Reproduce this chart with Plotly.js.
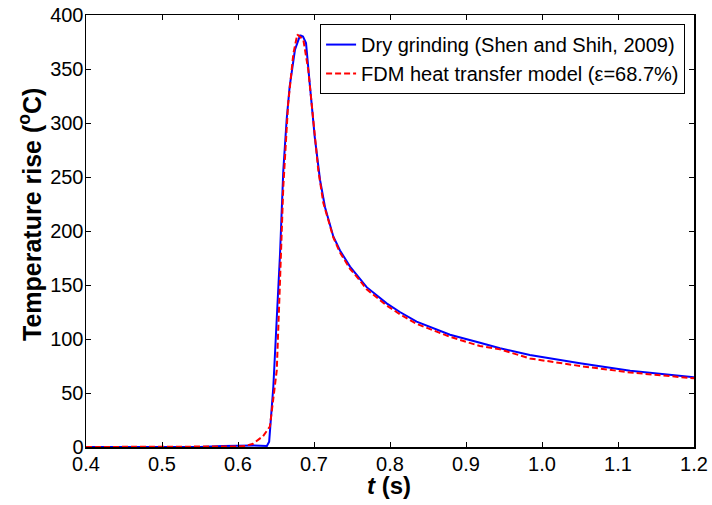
<!DOCTYPE html>
<html>
<head>
<meta charset="utf-8">
<script src="https://cdn.plot.ly/plotly-3.0.1.min.js"></script>
<style>html,body{margin:0;padding:0;background:#fff;}#chart{width:712px;height:505px;}</style>
</head>
<body>
<div id="chart"></div>
<script>
// Dry grinding (Shen and Shih, 2009) - measured
const dryT = [0.40, 0.50, 0.55, 0.58, 0.62, 0.638, 0.641, 0.6465, 0.651, 0.6553, 0.6596, 0.664, 0.668, 0.675, 0.6816, 0.6825, 0.6855, 0.6895, 0.6947, 0.701, 0.708, 0.7145, 0.7254, 0.7342, 0.7474, 0.7583, 0.7693, 0.7956, 0.813, 0.835, 0.879, 0.9184, 0.9447, 0.984, 1.05, 1.116, 1.2];
const dryV = [0, 0, 0, 1, 1.5, 1, 5, 56, 117, 179, 256, 303, 334, 368, 381, 381, 380, 374, 334, 287, 247, 222, 195, 182, 167, 158, 148, 133, 125, 116, 104, 96.6, 91.4, 85.2, 77.5, 70.7, 64.5];
// FDM heat transfer model
const fdmT = [0.40, 0.50, 0.55, 0.60, 0.609, 0.62, 0.629, 0.633, 0.642, 0.644, 0.651, 0.655, 0.6596, 0.666, 0.6728, 0.678, 0.686, 0.6925, 0.699, 0.7057, 0.7123, 0.7254, 0.7342, 0.7474, 0.7583, 0.7693, 0.7956, 0.813, 0.835, 0.879, 0.9184, 0.9447, 0.984, 1.05, 1.116, 1.2];
const fdmV = [0, 0, 0, 0.5, 1, 3, 8, 10, 19, 31, 71, 148, 241, 318, 364, 382, 377, 349, 303, 256, 226, 194, 180, 165, 156, 146, 131, 123, 114, 102, 93.5, 90.4, 82, 75, 69, 63.6];
const xTickVals = [0.4, 0.5, 0.6, 0.7, 0.8, 0.9, 1.0, 1.1, 1.2];
const xTickText = ['0.4', '0.5', '0.6', '0.7', '0.8', '0.9', '1.0', '1.1', '1.2'];
const yTickVals = [0, 50, 100, 150, 200, 250, 300, 350, 400];

const traces = [
  {x: dryT, y: dryV, type: 'scatter', mode: 'lines', name: 'Dry grinding (Shen and Shih, 2009)',
   line: {color: '#0000ff', width: 2}},
  {x: fdmT, y: fdmV, type: 'scatter', mode: 'lines', name: 'FDM heat transfer model (\u03b5=68.7%)',
   line: {color: '#ff0000', width: 2, dash: '6px,3px'}}
];

const font = {family: '"Liberation Sans", Arial, sans-serif', color: '#000'};
const layout = {
  width: 712, height: 505,
  margin: {l: 86, r: 18, t: 15, b: 58},
  paper_bgcolor: '#fff', plot_bgcolor: '#fff',
  font: Object.assign({size: 20}, font),
  showlegend: true,
  legend: {x: 0.385, y: 0.979, xanchor: 'left', yanchor: 'top', bgcolor: '#fff',
    bordercolor: '#000', borderwidth: 1, font: Object.assign({size: 20}, font),
    tracegroupgap: 0, itemwidth: 30},
  xaxis: {range: [0.4, 1.2], tickvals: xTickVals, ticktext: xTickText, ticks: 'inside', ticklen: 5,
    tickcolor: '#000', showline: true, linecolor: '#000', linewidth: 1.5, mirror: 'ticks',
    showgrid: false, zeroline: false, tickfont: Object.assign({size: 20}, font), ticklabelstandoff: -2},
  yaxis: {range: [0, 400], tickvals: yTickVals, ticks: 'inside', ticklen: 5,
    tickcolor: '#000', showline: true, linecolor: '#000', linewidth: 1.5, mirror: 'ticks',
    showgrid: false, zeroline: false, tickfont: Object.assign({size: 20}, font), ticklabelstandoff: -3},
  annotations: [
    {text: '<b><i>t</i> (s)</b>', xref: 'paper', yref: 'paper', x: (389 - 86) / 608, y: -(486 - 447) / 432,
     xanchor: 'center', yanchor: 'middle', showarrow: false, font: Object.assign({size: 24}, font)},
    {text: '<b>Temperature rise (<sup>o</sup>C)</b>', xref: 'paper', yref: 'paper', x: -(86 - 30) / 608, y: (447 - 215) / 432,
     xanchor: 'center', yanchor: 'middle', textangle: -90, showarrow: false, font: Object.assign({size: 25}, font)}
  ]
};
Plotly.newPlot('chart', traces, layout, {displayModeBar: false, staticPlot: true});
</script>
</body>
</html>
